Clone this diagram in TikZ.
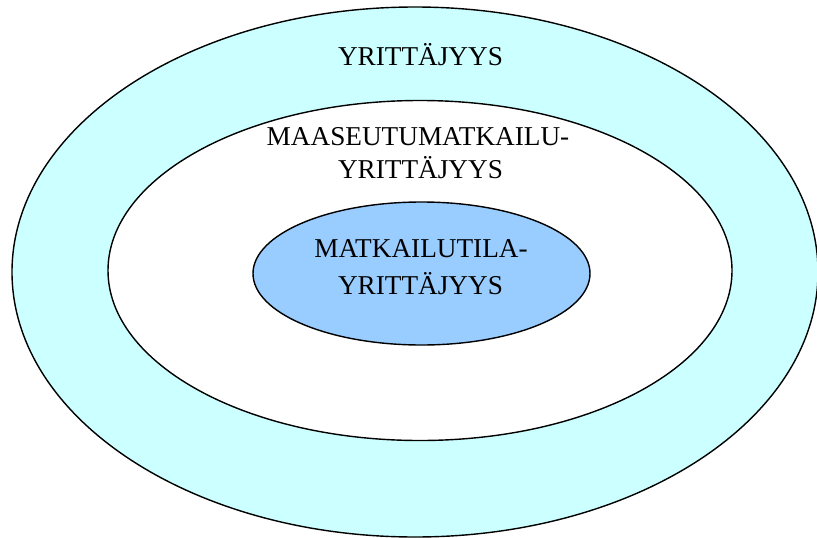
\documentclass[tikz,border=0pt]{standalone}
\usepackage{fontspec}
\setmainfont{Liberation Serif}
\usetikzlibrary{positioning}
\definecolor{ringcyan}{HTML}{CCFFFF}
\definecolor{corebl}{HTML}{99CCFF}

\begin{document}
\begin{tikzpicture}[x=0.02cm, y=-0.02cm, line width=0.8pt,
		lbl/.style={anchor=base, inner sep=0pt, font=\fontsize{15.5}{18}\selectfont}]
		\useasboundingbox (0,0) rectangle (817,537);

		\draw[fill=ringcyan] (415,272) ellipse [x radius=403, y radius=265];
		\draw[fill=white] (420,270.5) ellipse [x radius=312, y radius=170];
		\draw[fill=corebl] (421.5,273.5) ellipse [x radius=168.5, y radius=71.5];

		\node[lbl] (outer) at (420.5, 66) {YRITTÄJYYS};
		\node[lbl] (midtop) at (418, 145) {MAASEUTUMATKAILU-};
		\node[lbl] (midbot) at (420.5, 178) {YRITTÄJYYS};
		\node[lbl] (coretop) at (421, 257) {MATKAILUTILA-};
		\node[lbl] (corebot) at (420.5, 294) {YRITTÄJYYS};
	\end{tikzpicture}
\end{document}
